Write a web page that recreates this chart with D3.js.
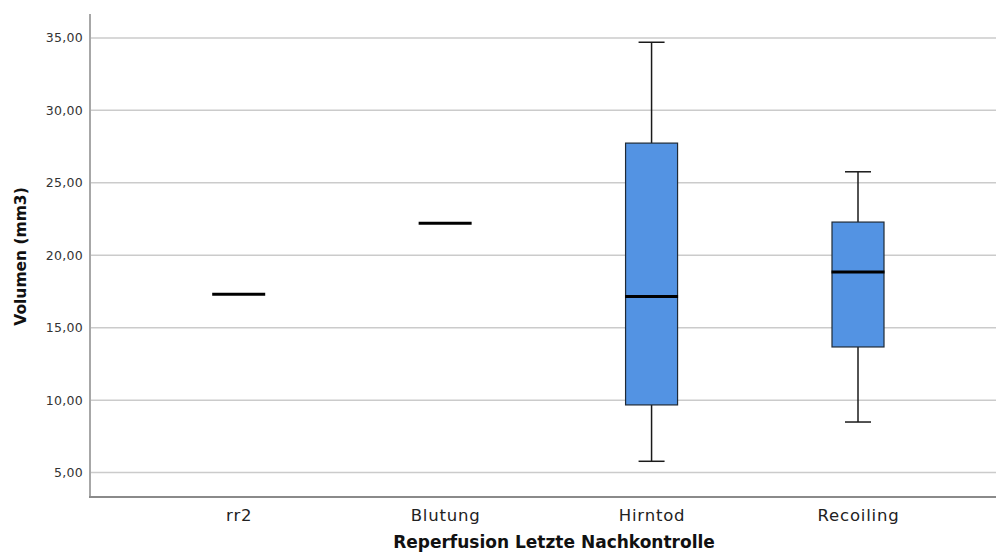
<!DOCTYPE html>
<html>
<head>
<meta charset="utf-8">
<script src="https://cdn.jsdelivr.net/npm/d3@7"></script>
<style>
  body { margin: 0; background: #fff; }
  svg { display: block; }
</style>
</head>
<body>
<svg id="chart" width="996" height="557"></svg>
<script>
// Data
const categories = ['rr2', 'Blutung', 'Hirntod', 'Recoiling'];
const minVals    = [17.31, 22.2, 5.78, 8.49];
const q1Vals     = [17.31, 22.2, 9.67, 13.67];
const medianVals = [17.31, 22.2, 17.15, 18.85];
const q3Vals     = [17.31, 22.2, 27.74, 22.29];
const maxVals    = [17.31, 22.2, 34.70, 25.76];
const yTicks     = [5, 10, 15, 20, 25, 30, 35];

(function () {
const svg = d3.select('#chart');

const plotLeft = 90, plotRight = 996, plotTop = 14, plotBottom = 497;

const x = d3.scalePoint()
  .domain(categories)
  .range([238.7, 858]);

const y = d3.scaleLinear()
  .domain([3.315, 36.65])
  .range([plotBottom, plotTop]);

const fmt = v => d3.format('.2f')(v).replace('.', ',');

// Gridlines
svg.append('g')
  .selectAll('line')
  .data(yTicks)
  .enter()
  .append('line')
  .attr('x1', plotLeft + 1)
  .attr('x2', plotRight)
  .attr('y1', d => y(d))
  .attr('y2', d => y(d))
  .attr('stroke', '#cbcbcb')
  .attr('stroke-width', 1.5);

// Y axis
const yAxis = svg.append('g')
  .attr('transform', `translate(${plotLeft},0)`)
  .call(d3.axisLeft(y).tickValues(yTicks).tickFormat(fmt).tickSize(0).tickPadding(7));
yAxis.select('.domain').remove();
yAxis.selectAll('text')
  .attr('fill', '#333')
  .style('font-family', 'DejaVu Sans, sans-serif')
  .style('font-size', '12.5px')
  .style('letter-spacing', '0.3px');

svg.append('line')
  .attr('x1', plotLeft).attr('x2', plotLeft)
  .attr('y1', plotTop).attr('y2', plotBottom)
  .attr('stroke', '#8a8a8a')
  .attr('stroke-width', 1.5);

// X axis
const xAxis = svg.append('g')
  .attr('transform', `translate(0,${plotBottom})`)
  .call(d3.axisBottom(x).tickSize(0).tickPadding(12));
xAxis.select('.domain').remove();
xAxis.selectAll('text')
  .attr('fill', '#222')
  .style('font-family', 'DejaVu Sans, sans-serif')
  .style('font-size', '16.5px')
  .style('letter-spacing', '0.8px');

svg.append('line')
  .attr('x1', plotLeft - 1).attr('x2', plotRight)
  .attr('y1', plotBottom).attr('y2', plotBottom)
  .attr('stroke', '#8a8a8a')
  .attr('stroke-width', 2);

// Axis titles
svg.append('text')
  .attr('transform', `translate(26,${(plotTop + plotBottom) / 2 + 1}) rotate(-90)`)
  .attr('text-anchor', 'middle')
  .attr('fill', '#111')
  .style('font-family', 'DejaVu Sans, sans-serif')
  .style('font-weight', 'bold')
  .style('font-size', '15.5px')
  .text('Volumen (mm3)');

svg.append('text')
  .attr('x', 554)
  .attr('y', 548)
  .attr('text-anchor', 'middle')
  .attr('fill', '#111')
  .style('font-family', 'DejaVu Sans, sans-serif')
  .style('font-weight', 'bold')
  .style('font-size', '17px')
  .text('Reperfusion Letzte Nachkontrolle');

// Boxplots
const boxW = 52, capW = 26;
const data = categories.map((c, i) => ({
  cat: c, min: minVals[i], q1: q1Vals[i], med: medianVals[i], q3: q3Vals[i], max: maxVals[i]
}));

const boxes = svg.append('g')
  .selectAll('g')
  .data(data)
  .enter()
  .append('g')
  .attr('transform', d => `translate(${x(d.cat)},0)`);

// whiskers
boxes.filter(d => d.max > d.q3).append('line')
  .attr('x1', 0).attr('x2', 0)
  .attr('y1', d => y(d.max)).attr('y2', d => y(d.q3))
  .attr('stroke', '#1a1a1a').attr('stroke-width', 1.5);
boxes.filter(d => d.min < d.q1).append('line')
  .attr('x1', 0).attr('x2', 0)
  .attr('y1', d => y(d.q1)).attr('y2', d => y(d.min))
  .attr('stroke', '#1a1a1a').attr('stroke-width', 1.5);
boxes.filter(d => d.max > d.q3).append('line')
  .attr('x1', -capW / 2).attr('x2', capW / 2)
  .attr('y1', d => y(d.max)).attr('y2', d => y(d.max))
  .attr('stroke', '#1a1a1a').attr('stroke-width', 1.5);
boxes.filter(d => d.min < d.q1).append('line')
  .attr('x1', -capW / 2).attr('x2', capW / 2)
  .attr('y1', d => y(d.min)).attr('y2', d => y(d.min))
  .attr('stroke', '#1a1a1a').attr('stroke-width', 1.5);

// box
boxes.filter(d => d.q3 > d.q1).append('rect')
  .attr('x', -boxW / 2)
  .attr('width', boxW)
  .attr('y', d => y(d.q3))
  .attr('height', d => y(d.q1) - y(d.q3))
  .attr('fill', '#5393e3')
  .attr('stroke', '#1f2a36')
  .attr('stroke-width', 1.2);

// median
boxes.append('line')
  .attr('x1', -boxW / 2 - 0.5).attr('x2', boxW / 2 + 0.5)
  .attr('y1', d => y(d.med)).attr('y2', d => y(d.med))
  .attr('stroke', '#000').attr('stroke-width', 3);
})();
</script>
</body>
</html>
